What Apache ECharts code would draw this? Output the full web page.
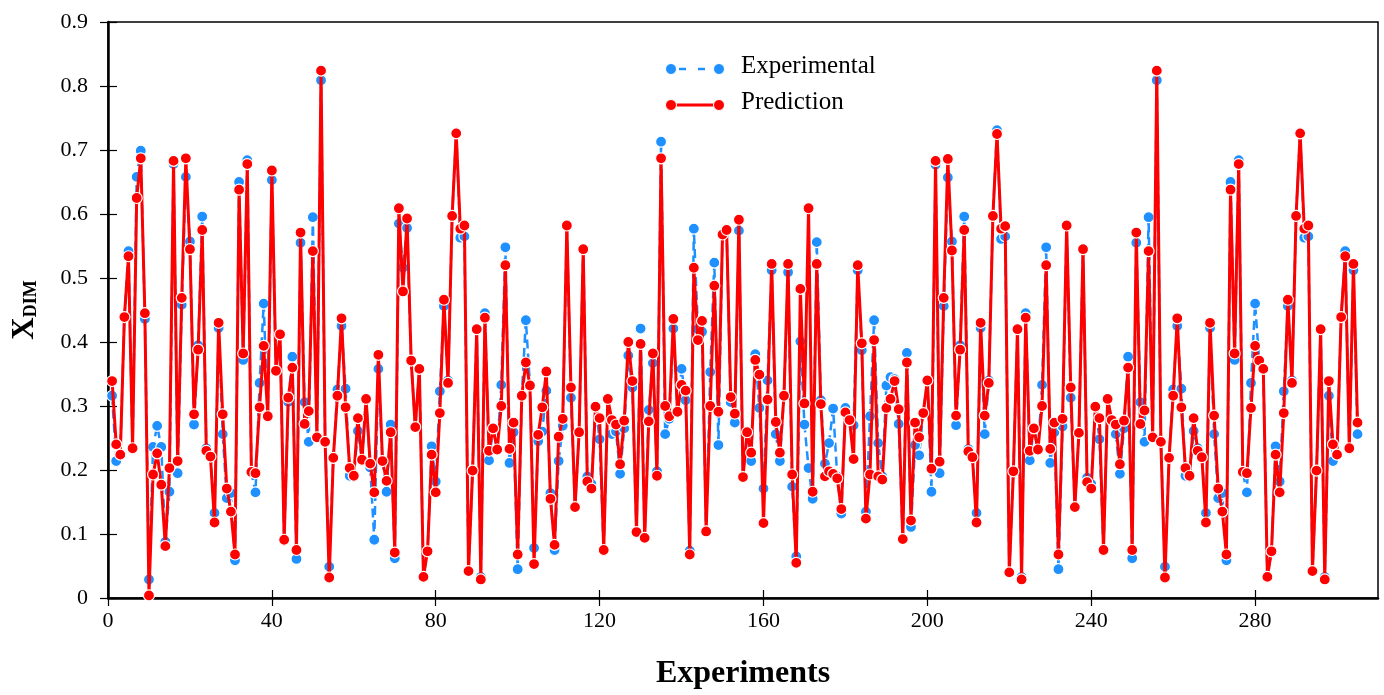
<!DOCTYPE html>
<html>
<head>
<meta charset="utf-8">
<script src="https://cdn.jsdelivr.net/npm/echarts@6/dist/echarts.min.js"></script>
<style>
  html, body { margin: 0; padding: 0; background: #fff; }
  #chart { width: 1384px; height: 695px; }
</style>
</head>
<body>
<div id="chart"></div>
<script>
// Measured X_DIM for each experiment (1..305)
const experimental = [
  0.316,0.214,0.225,0.439,0.542,0.234,0.658,0.699,0.436,0.029,
  0.236,0.269,0.236,0.088,0.166,0.678,0.195,0.458,0.658,0.557,
  0.271,0.395,0.596,0.234,0.221,0.133,0.422,0.256,0.156,0.164,
  0.059,0.650,0.372,0.684,0.197,0.165,0.336,0.460,0.284,0.653,
  0.355,0.412,0.091,0.306,0.377,0.061,0.555,0.306,0.244,0.595,
  0.251,0.809,0.244,0.049,0.219,0.326,0.425,0.327,0.191,0.191,
  0.261,0.216,0.311,0.204,0.091,0.358,0.214,0.166,0.271,0.062,
  0.585,0.516,0.578,0.371,0.267,0.358,0.035,0.073,0.237,0.182,
  0.323,0.456,0.340,0.597,0.727,0.563,0.565,0.042,0.199,0.420,
  0.033,0.445,0.215,0.265,0.232,0.333,0.548,0.211,0.259,0.045,
  0.316,0.434,0.332,0.078,0.245,0.260,0.324,0.164,0.075,0.214,
  0.269,0.582,0.313,0.142,0.259,0.545,0.190,0.178,0.298,0.248,
  0.075,0.311,0.256,0.260,0.194,0.265,0.379,0.329,0.103,0.421,
  0.094,0.294,0.367,0.198,0.713,0.256,0.280,0.421,0.291,0.358,
  0.309,0.074,0.577,0.420,0.416,0.104,0.353,0.524,0.239,0.567,
  0.575,0.306,0.274,0.574,0.189,0.259,0.214,0.381,0.297,0.171,
  0.340,0.512,0.256,0.214,0.316,0.509,0.174,0.065,0.401,0.271,
  0.203,0.155,0.556,0.309,0.210,0.242,0.296,0.190,0.132,0.297,
  0.280,0.270,0.512,0.387,0.135,0.284,0.434,0.242,0.190,0.332,
  0.345,0.342,0.272,0.092,0.383,0.111,0.239,0.223,0.290,0.339,
  0.166,0.677,0.195,0.456,0.657,0.557,0.270,0.395,0.596,0.233,
  0.220,0.133,0.422,0.256,0.340,0.597,0.731,0.561,0.565,0.040,
  0.198,0.420,0.033,0.445,0.215,0.265,0.232,0.333,0.548,0.211,
  0.259,0.045,0.268,0.582,0.313,0.142,0.258,0.545,0.188,0.178,
  0.299,0.248,0.075,0.311,0.278,0.256,0.194,0.265,0.377,0.062,
  0.555,0.306,0.244,0.595,0.251,0.809,0.244,0.049,0.219,0.326,
  0.425,0.327,0.191,0.191,0.261,0.234,0.222,0.133,0.422,0.256,
  0.156,0.164,0.059,0.650,0.372,0.684,0.197,0.165,0.336,0.460,
  0.371,0.358,0.035,0.073,0.237,0.182,0.323,0.456,0.340,0.597,
  0.727,0.563,0.565,0.042,0.199,0.420,0.033,0.316,0.214,0.225,
  0.439,0.542,0.234,0.512,0.256
];

// Model prediction for the same experiments
const prediction = [
  0.339,0.240,0.224,0.439,0.534,0.234,0.625,0.687,0.445,0.004,
  0.193,0.226,0.177,0.081,0.203,0.683,0.214,0.469,0.687,0.545,
  0.287,0.388,0.575,0.230,0.221,0.118,0.430,0.287,0.171,0.135,
  0.068,0.638,0.382,0.678,0.197,0.195,0.298,0.394,0.284,0.668,
  0.355,0.412,0.091,0.313,0.360,0.075,0.571,0.272,0.292,0.542,
  0.251,0.824,0.244,0.032,0.219,0.316,0.437,0.298,0.203,0.191,
  0.281,0.216,0.311,0.210,0.165,0.380,0.214,0.183,0.259,0.071,
  0.609,0.479,0.593,0.371,0.267,0.358,0.033,0.073,0.224,0.165,
  0.289,0.466,0.336,0.597,0.726,0.577,0.582,0.042,0.199,0.420,
  0.029,0.438,0.230,0.265,0.232,0.300,0.520,0.233,0.274,0.068,
  0.316,0.368,0.332,0.053,0.255,0.298,0.354,0.155,0.083,0.252,
  0.280,0.582,0.329,0.142,0.259,0.545,0.182,0.171,0.299,0.281,
  0.075,0.311,0.278,0.271,0.209,0.277,0.400,0.339,0.103,0.397,
  0.094,0.276,0.382,0.191,0.687,0.300,0.284,0.436,0.291,0.333,
  0.324,0.068,0.516,0.403,0.433,0.104,0.300,0.488,0.291,0.568,
  0.575,0.314,0.288,0.591,0.189,0.259,0.227,0.372,0.349,0.117,
  0.310,0.522,0.275,0.227,0.316,0.522,0.193,0.055,0.483,0.304,
  0.609,0.166,0.522,0.303,0.190,0.198,0.194,0.187,0.139,0.290,
  0.278,0.217,0.520,0.398,0.124,0.193,0.403,0.190,0.185,0.297,
  0.311,0.339,0.295,0.092,0.368,0.121,0.274,0.251,0.289,0.340,
  0.202,0.683,0.213,0.469,0.686,0.543,0.285,0.388,0.575,0.229,
  0.220,0.118,0.430,0.285,0.336,0.597,0.725,0.577,0.581,0.040,
  0.198,0.420,0.029,0.438,0.230,0.265,0.232,0.300,0.520,0.233,
  0.274,0.068,0.280,0.582,0.329,0.142,0.258,0.545,0.181,0.171,
  0.299,0.281,0.075,0.311,0.278,0.271,0.209,0.277,0.360,0.075,
  0.571,0.272,0.293,0.542,0.251,0.824,0.244,0.032,0.219,0.316,
  0.437,0.298,0.203,0.191,0.281,0.230,0.220,0.118,0.430,0.285,
  0.171,0.135,0.068,0.638,0.382,0.678,0.197,0.195,0.297,0.394,
  0.371,0.358,0.033,0.073,0.224,0.165,0.289,0.466,0.336,0.597,
  0.726,0.577,0.582,0.042,0.199,0.420,0.029,0.339,0.240,0.224,
  0.439,0.534,0.234,0.522,0.274
];

const xTicks = [0, 40, 80, 120, 160, 200, 240, 280];
const yTicks = [0, 0.1, 0.2, 0.3, 0.4, 0.5, 0.6, 0.7, 0.8, 0.9];
const seriesNames = ['Experimental', 'Prediction'];

const SERIF = "'Liberation Serif', 'Times New Roman', serif";
const BLUE = '#1E90FF';
const RED = '#FF0000';

// pair each value with its experiment number (1-based)
const toPoints = arr => arr.map((v, i) => [i + 1, v]);

const chart = echarts.init(document.getElementById('chart'), null, { renderer: 'canvas' });

const xBase = {
  type: 'value', min: 0, max: 310, interval: 40,
  splitLine: { show: false }
};
const yBase = {
  type: 'value', min: 0, max: 0.9, interval: 0.1,
  splitLine: { show: false }
};

const option = {
  backgroundColor: '#fff',
  animation: false,
  grid: {
    left: 108, right: 6, top: 22, bottom: 94,
    show: true, borderColor: '#000', borderWidth: 1.5, backgroundColor: 'transparent'
  },
  xAxis: [
    Object.assign({}, xBase, {
      position: 'bottom',
      axisLine: { lineStyle: { color: '#000', width: 2.5 } },
      axisTick: { inside: false, length: 8, customValues: xTicks, lineStyle: { color: '#000', width: 1.2 } },
      axisLabel: { customValues: xTicks, color: '#000', fontFamily: SERIF, fontSize: 22, margin: 12 },
      name: 'Experiments', nameLocation: 'middle', nameGap: 60,
      nameTextStyle: { color: '#000', fontFamily: SERIF, fontSize: 32, fontWeight: 'bold' }
    }),
    Object.assign({}, xBase, {
      position: 'bottom', axisLine: { show: false },
      axisTick: { inside: true, length: 8, customValues: xTicks, lineStyle: { color: '#000', width: 1.2 } },
      axisLabel: { show: false }
    })
  ],
  yAxis: [
    Object.assign({}, yBase, {
      position: 'left',
      axisLine: { show: true, lineStyle: { color: '#000', width: 2.5 } },
      axisTick: { inside: false, length: 8, customValues: yTicks, lineStyle: { color: '#000', width: 1.2 } },
      axisLabel: {
        customValues: yTicks, color: '#000', fontFamily: SERIF, fontSize: 22, margin: 20,
        formatter: v => (v === 0 ? '0' : v.toFixed(1))
      },
      name: '{x|X}{s|DIM}', nameLocation: 'middle', nameGap: 68, nameRotate: 90,
      nameTextStyle: {
        color: '#000',
        rich: {
          x: { fontFamily: SERIF, fontSize: 31, fontWeight: 'bold', lineHeight: 30, verticalAlign: 'middle' },
          s: { fontFamily: SERIF, fontSize: 18, fontWeight: 'bold', lineHeight: 14, verticalAlign: 'bottom' }
        }
      }
    }),
    Object.assign({}, yBase, {
      position: 'left', axisLine: { show: false },
      axisTick: { inside: true, length: 9, customValues: yTicks, lineStyle: { color: '#000', width: 1.2 } },
      axisLabel: { show: false }
    })
  ],
  series: [
    {
      name: seriesNames[0], type: 'line', xAxisIndex: 0, yAxisIndex: 0,
      data: toPoints(experimental),
      symbol: 'circle', symbolSize: 11,
      itemStyle: { color: BLUE, borderColor: '#fff', borderWidth: 1.2 },
      lineStyle: { color: BLUE, width: 2.5, type: [9, 5] },
      z: 2
    },
    {
      name: seriesNames[1], type: 'line', xAxisIndex: 0, yAxisIndex: 0,
      data: toPoints(prediction),
      symbol: 'circle', symbolSize: 11,
      itemStyle: { color: RED, borderColor: '#fff', borderWidth: 1.2 },
      lineStyle: { color: RED, width: 3 },
      z: 3
    }
  ],
  graphic: [
    // legend: Experimental
    { type: 'line', shape: { x1: 676, y1: 69, x2: 716, y2: 69 },
      style: { stroke: BLUE, lineWidth: 2.5, lineDash: [7, 12], lineDashOffset: -3 }, z: 10 },
    { type: 'circle', shape: { cx: 671, cy: 69, r: 5.5 }, style: { fill: BLUE, stroke: '#fff', lineWidth: 1 }, z: 11 },
    { type: 'circle', shape: { cx: 719, cy: 69, r: 5.5 }, style: { fill: BLUE, stroke: '#fff', lineWidth: 1 }, z: 11 },
    { type: 'text', left: 741, top: 54,
      style: { text: seriesNames[0], fill: '#000', font: "25px " + SERIF }, z: 11 },
    // legend: Prediction
    { type: 'line', shape: { x1: 671, y1: 105, x2: 719, y2: 105 },
      style: { stroke: RED, lineWidth: 3 }, z: 10 },
    { type: 'circle', shape: { cx: 671, cy: 105, r: 5.5 }, style: { fill: RED, stroke: '#fff', lineWidth: 1 }, z: 11 },
    { type: 'circle', shape: { cx: 719, cy: 105, r: 5.5 }, style: { fill: RED, stroke: '#fff', lineWidth: 1 }, z: 11 },
    { type: 'text', left: 741, top: 90,
      style: { text: seriesNames[1], fill: '#000', font: "25px " + SERIF }, z: 11 }
  ]
};

chart.setOption(option);
</script>
</body>
</html>
